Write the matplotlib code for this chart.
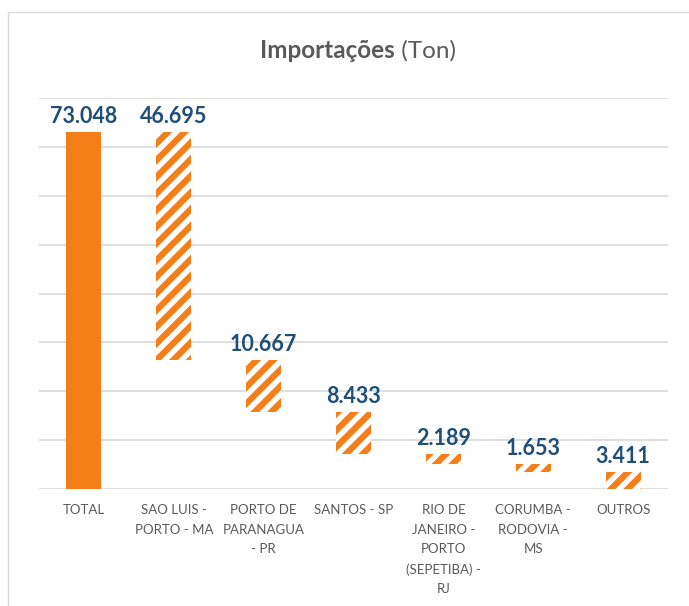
import matplotlib.pyplot as plt
from matplotlib.patches import Rectangle

categories = ['TOTAL', 'SAO LUIS -\nPORTO - MA', 'PORTO DE\nPARANAGUA\n- PR', 'SANTOS - SP',
              'RIO DE\nJANEIRO -\nPORTO\n(SEPETIBA) -\nRJ', 'CORUMBA -\nRODOVIA -\nMS', 'OUTROS']
values = [73048, 46695, 10667, 8433, 2189, 1653, 3411]
labels = ['73.048', '46.695', '10.667', '8.433', '2.189', '1.653', '3.411']

orange = '#F47E17'
blue = '#1F4E79'
grey = '#595959'

plt.rcParams['font.family'] = ['Lato', 'DejaVu Sans']
plt.rcParams['hatch.linewidth'] = 4.5
plt.rcParams['hatch.color'] = orange

fig = plt.figure(figsize=(6.89, 6.06), dpi=100)
ax = fig.add_axes([39 / 689, 1 - 489 / 606, 629 / 689, 391 / 606])

# waterfall: each step hangs from the running remainder
top = values[0]
x = list(range(len(values)))
for i, v in enumerate(values):
    if i == 0:
        ax.bar(i, v, width=0.39, color=orange, zorder=3)
        ytop = v
    else:
        ax.bar(i, v, bottom=top - v, width=0.39, facecolor='white', edgecolor=orange,
               hatch='//', linewidth=0, zorder=3)
        ytop = top
        top = top - v
    ax.text(i, ytop + 1000, labels[i], ha='center', va='bottom', color=blue,
            fontsize=15.5, fontweight='bold')

ax.set_ylim(0, 80000)
ax.set_xlim(-0.5, len(values) - 0.5)
ax.set_yticks(range(0, 80001, 10000))
ax.yaxis.grid(True, color='#d9d9d9', linewidth=1.2, zorder=0)
ax.set_yticklabels([])
ax.tick_params(axis='y', length=0)
ax.set_xticks(x)
ax.set_xticklabels(categories, fontsize=9.5, color=grey, linespacing=1.75, va='top')
ax.tick_params(axis='x', length=0, pad=11)
for s in ax.spines.values():
    s.set_visible(False)

fig.text(395 / 689, 1 - 51 / 606, 'Importações', ha='right', va='center', fontsize=17.5,
         fontweight='bold', color=grey)
fig.text(395 / 689, 1 - 51 / 606, ' (Ton)', ha='left', va='center', fontsize=17.5, color=grey)

fig.patches.append(Rectangle((8 / 689, -0.01), 1.0, 1 - 12 / 606 + 0.01, transform=fig.transFigure,
                             fill=False, edgecolor='#d9d9d9', linewidth=1))

fig.savefig('out.png', dpi=100)
